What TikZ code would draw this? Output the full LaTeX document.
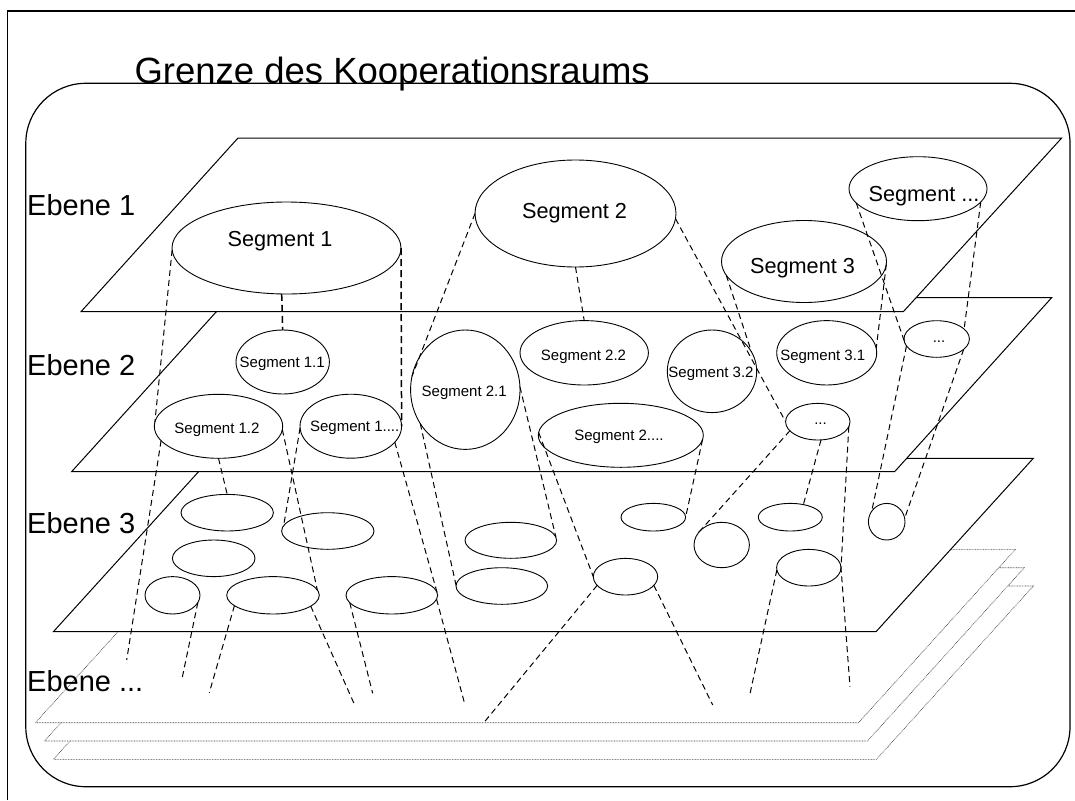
\documentclass[tikz,border=0pt]{standalone}
\usepackage{fontspec}
\setmainfont{Liberation Sans}
\usetikzlibrary{shapes.geometric}
\begin{document}
\begin{tikzpicture}[x=1pt,y=-1pt,
  seg/.style 2 args={ellipse, draw, line width=0.9pt, inner sep=0pt, outer sep=0pt,
    minimum width=#1, minimum height=#2},
  plane/.style={draw, fill=white, line width=1pt},
  ghost/.style={draw=black!75, fill=white, line width=0.6pt, dash pattern=on 0.8pt off 0.8pt},
  link/.style={line width=1pt, dash pattern=on 6pt off 4pt},
  bold link/.style={line width=1.5pt, dash pattern=on 7pt off 4pt},
  big/.style={font=\fontsize{21.7}{24}\selectfont, anchor=base, inner sep=0pt},
  small/.style={font=\fontsize{15}{17}\selectfont, anchor=base, inner sep=0pt},
  level/.style={font=\fontsize{29}{32}\selectfont, anchor=base west, inner sep=0pt},
]
\useasboundingbox (0,0) rectangle (1075,800);

% outer frame and boundary of the cooperation space
\draw[line width=1.2pt] (7.6,800) -- (7.6,11) -- (1075,11);
\draw[line width=1.2pt, rounded corners=60pt] (25.8,83.3) rectangle (1070,786.7);
\node[anchor=base west, inner sep=0pt, font=\fontsize{36.5}{40}\selectfont] (title) at (134.3,83.3) {Grenze des Kooperationsraums};

% further levels, stacked below
\draw[ghost] (210.7,586) -- (1033.3,586) -- (876.5,759.3) -- (53.4,759.3) -- cycle;
\draw[ghost] (201.7,567.7) -- (1024.3,567.7) -- (867.5,741) -- (44.4,741) -- cycle;
\draw[ghost] (192.7,549.4) -- (1015.3,549.4) -- (858.5,722.7) -- (35.4,722.7) -- cycle;

% level planes
\draw[plane] (210.7,458.3) -- (1033.3,458.3) -- (876,631.7) -- (53.4,631.7) -- cycle;
\draw[plane] (229.2,297.5) -- (1051.8,297.5) -- (894.6,471.7) -- (71.6,471.7) -- cycle;
\draw[plane] (238,138) -- (1061.7,138) -- (903.3,311.7) -- (81,311.7) -- cycle;

% level labels
\node[level] (e1) at (27,215) {Ebene 1};
\node[level] (e2) at (27,375) {Ebene 2};
\node[level] (e3) at (27,533.3) {Ebene 3};
\node[level] (e4) at (27,691.7) {Ebene ...};

% level 1 segments
\node[seg={229pt}{92pt}] (s1) at (286.5,248) {};
\node[seg={201pt}{107pt}] (s2) at (575.5,213.5) {};
\node[seg={165pt}{82pt}] (s3) at (804,261.5) {};
\node[seg={138pt}{64pt}] (sx) at (918,188.7) {};
\node[big] (t1) at (280,246.7) {Segment 1};
\node[big] (t2) at (574.5,218) {Segment 2};
\node[big] (t3) at (802.5,273.3) {Segment 3};
\node[big] (tx) at (924,201) {Segment ...};

% level 2 segments
\node[seg={93.4pt}{64pt}] (s11) at (282.7,362) {};
\node[seg={128.4pt}{64pt}] (s12) at (218.5,426.3) {};
\node[seg={101.6pt}{64pt}] (s1x) at (350.8,426.2) {};
\node[seg={109.4pt}{119.4pt}] (s21) at (465.3,389.7) {};
\node[seg={128.4pt}{64.4pt}] (s22) at (584.2,352.8) {};
\node[seg={165pt}{64pt}] (s2x) at (620.8,435.3) {};
\node[seg={89.4pt}{82.6pt}] (s32) at (712,371.3) {};
\node[seg={100pt}{64.4pt}] (s31) at (826.7,352.8) {};
\node[seg={65.4pt}{36.6pt}] (dr) at (936.7,339) {};
\node[seg={64.4pt}{36.6pt}] (dm) at (817.8,421.7) {};
\node[small] (t11) at (282.2,367.3) {Segment 1.1};
\node[small] (t12) at (217,433.3) {Segment 1.2};
\node[small] (t1x) at (354.7,431) {Segment 1....};
\node[small] (t21) at (464.2,396) {Segment 2.1};
\node[small] (t22) at (583.5,360) {Segment 2.2};
\node[small] (t2x) at (619,440) {Segment 2....};
\node[small] (t32) at (711,377.3) {Segment 3.2};
\node[small] (t31) at (822.8,360) {Segment 3.1};
\node[small] (tdr) at (939,342) {...};
\node[small] (tdm) at (820.5,424.5) {...};

% level 3 segments
\node[seg={92.4pt}{36.6pt}] (a) at (227.2,512.7) {};
\node[seg={92.4pt}{36.6pt}] (b) at (327.8,531) {};
\node[seg={82.6pt}{36.6pt}] (c) at (213.7,558.3) {};
\node[seg={55pt}{37.4pt}] (d) at (172.5,595.3) {};
\node[seg={92.6pt}{37.4pt}] (e) at (273,595.3) {};
\node[seg={91.6pt}{37.4pt}] (f) at (391.8,595.3) {};
\node[seg={91.6pt}{36pt}] (g) at (510.8,540.3) {};
\node[seg={91.6pt}{36.6pt}] (h) at (501.8,586) {};
\node[seg={64.6pt}{27.6pt}] (i) at (653.3,517.2) {};
\node[seg={55.4pt}{45.4pt}] (j) at (721.7,545) {};
\node[seg={64.4pt}{36.6pt}] (k) at (625.5,576.7) {};
\node[seg={64pt}{27.6pt}] (l) at (790.3,517.2) {};
\node[seg={36.6pt}{36.6pt}] (m) at (886.7,521.7) {};
\node[seg={64.4pt}{36.6pt}] (n) at (808.8,567.7) {};

% open ends of the links towards the lower levels
\coordinate (q11) at (126.7,660);
\coordinate (q25) at (182.3,677.3);
\coordinate (q26) at (209.3,692.7);
\coordinate (q27) at (354.7,705);
\coordinate (q28) at (372.7,693.3);
\coordinate (q29) at (465,705);
\coordinate (q30) at (483.3,723.3);
\coordinate (q31) at (712.7,705);
\coordinate (q32) at (749.5,696);
\coordinate (q22) at (850,686.7);

% links level 1 -> level 2
\draw[link] (s1.181) -- (s12.176);
\draw[bold link] (s1.east) -- (s1x.east);
\draw[bold link] (s1.-96) -- (s11.north);
\draw[link] (s2.west) -- (s21.166);
\draw[link] (s2.south) -- (s22.north);
\draw[link] (s2.-3) -- (dm.west);
\draw[link] (s3.190) -- (s32.26);
\draw[link] (s3.-2) -- (s31.5);
\draw[link] (sx.193) -- (dr.190);
\draw[link] (sx.-12) -- (dr.20);

% links level 2 -> level 3
\draw[link] (s12.194) -- (q11);
\draw[link] (s12.south) -- (a.north);
\draw[link] (s12.-3) -- (e.7);
\draw[link] (s1x.182) -- (b.173);
\draw[link] (s1x.-20) -- (f.2);
\draw[link] (s21.217) -- (h.179);
\draw[link] (s21.3) -- (g.4);
\draw[link] (s2x.178) -- (k.west);
\draw[link] (s2x.-3) -- (i.east);
\draw[link] (dm.198) -- (j.152);
\draw[link] (dm.-80) -- (l.44);
\draw[link] (dm.-9) -- (n.east) -- (q22);
\draw[link] (dr.193) -- (m.145);
\draw[link] (dr.-21) -- (m.11);

% links level 3 -> further levels
\draw[link] (d.-16) -- (q25);
\draw[link] (e.195) -- (q26);
\draw[link] (e.-16) -- (q27);
\draw[link] (f.190) -- (q28);
\draw[link] (f.-5) -- (q29);
\draw[link] (k.197) -- (q30);
\draw[link] (k.-17) -- (q31);
\draw[link] (n.184) -- (q32);
\end{tikzpicture}
\end{document}
